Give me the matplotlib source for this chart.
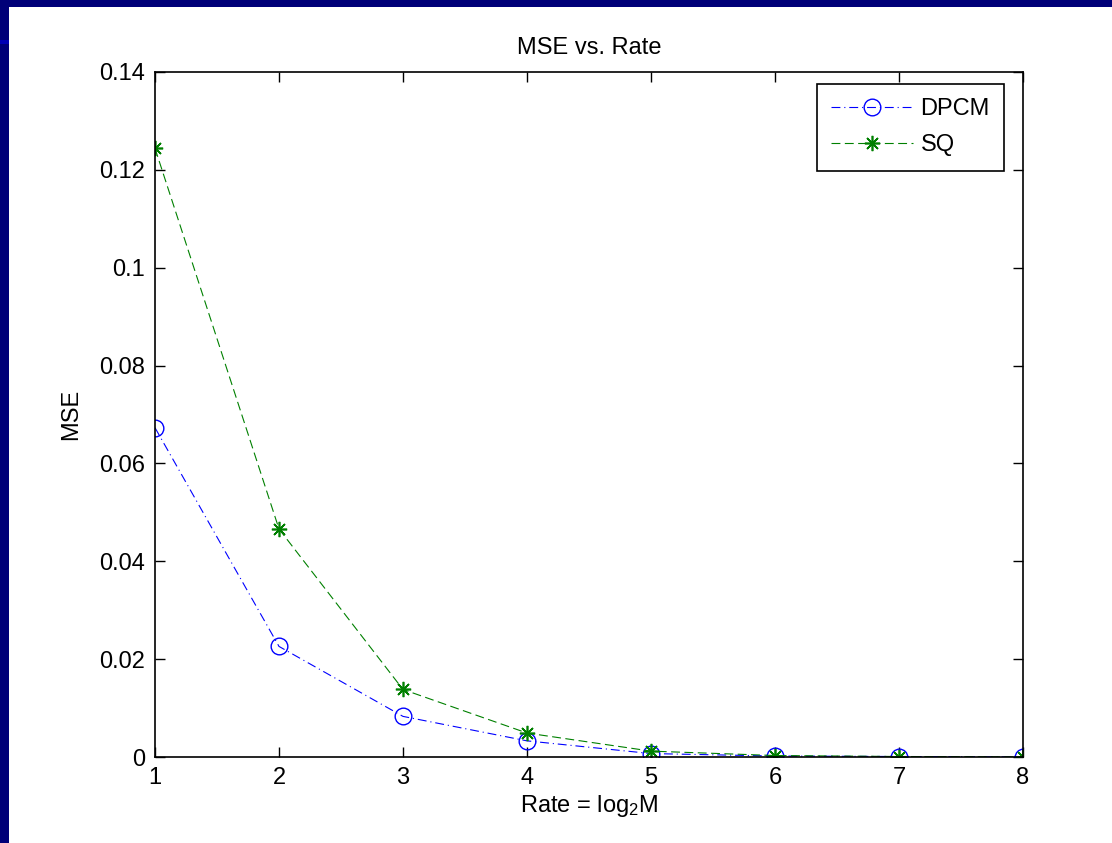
import numpy as np
import matplotlib
matplotlib.use('Agg')
import matplotlib.pyplot as plt
from matplotlib.patches import Rectangle

plt.rcParams['font.family'] = ['Liberation Sans', 'DejaVu Sans']
plt.rcParams['mathtext.fontset'] = 'custom'
plt.rcParams['mathtext.rm'] = 'Liberation Sans'
plt.rcParams['mathtext.default'] = 'regular'

# data
rate = [1, 2, 3, 4, 5, 6, 7, 8]
mse_dpcm = [0.0673, 0.0226, 0.0083, 0.0033, 0.0007, 0.0002, 0.0001, 0.00003]
mse_sq = [0.1244, 0.0466, 0.0138, 0.0049, 0.0012, 0.0003, 0.0001, 0.00003]
yticks = [0, 0.02, 0.04, 0.06, 0.08, 0.1, 0.12, 0.14]
ytick_labels = ['0', '0.02', '0.04', '0.06', '0.08', '0.1', '0.12', '0.14']

fs = 17

fig = plt.figure(figsize=(11.12, 8.43), dpi=100)
fig.patch.set_facecolor('#000078')
# white figure area inside the slide border
fig.patches.append(Rectangle((9/1112, 0), 1, (843-7)/843, transform=fig.transFigure,
                             facecolor='white', edgecolor='none', zorder=-10))
fig.patches.append(Rectangle((0, (843-44)/843), 9/1112, 4/843, transform=fig.transFigure,
                             facecolor='#0000b4', edgecolor='none', zorder=-10))

ax = fig.add_axes([155/1112, (843-757)/843, (1023-155)/1112, (757-72)/843])
ax.set_zorder(5)

ax.plot(rate, mse_dpcm, color='blue', marker='o', markersize=12,
        markerfacecolor='none', markeredgewidth=1.0, linewidth=0.8,
        dashes=(8, 3.5, 1, 3.5), label='DPCM')
ax.plot(rate, mse_sq, color=(0, 0.5, 0), marker=(8, 2, 0), markersize=11,
        markeredgewidth=1.2, linewidth=0.8, dashes=(8, 4), label='SQ')

ax.set_xlim(1, 8)
ax.set_ylim(0, 0.14)
ax.set_xticks(rate)
ax.set_yticks(yticks)
ax.set_yticklabels(ytick_labels)
ax.tick_params(direction='in', top=True, right=True, labelsize=fs, length=7,
               pad=7, width=1.0)
for s in ax.spines.values():
    s.set_linewidth(1.2)

ax.set_title('MSE vs. Rate', fontsize=fs, pad=13)
ax.set_xlabel('Rate = log$_2$M', fontsize=fs, labelpad=3)
ax.set_ylabel('MSE', fontsize=fs, labelpad=12)

leg = ax.legend(loc='upper right', bbox_to_anchor=((1004-155)/868, (757-84)/685),
                borderaxespad=0, fontsize=fs, fancybox=False, framealpha=1,
                edgecolor='black', handlelength=3.5, handletextpad=0.3,
                labelspacing=0.6, borderpad=0.6)
leg.get_frame().set_linewidth(1.2)

fig.savefig('out.png', dpi=100, facecolor=fig.get_facecolor())
